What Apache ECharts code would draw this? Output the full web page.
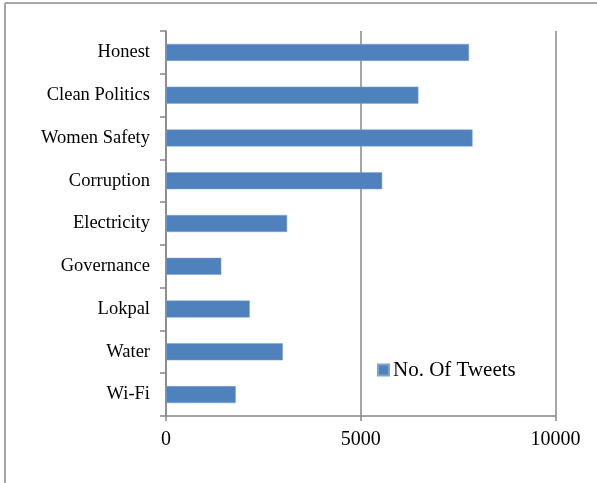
<!DOCTYPE html>
<html>
<head>
<meta charset="utf-8">
<script src="https://cdn.jsdelivr.net/npm/echarts@6/dist/echarts.min.js"></script>
<style>
html,body{margin:0;padding:0;background:#fff;}
#chart{width:597px;height:483px;}
</style>
</head>
<body>
<div id="chart"></div>
<script>
const categories = ["Honest", "Clean Politics", "Women Safety", "Corruption", "Electricity", "Governance", "Lokpal", "Water", "Wi-Fi"];
const tweets = [7780, 6480, 7870, 5550, 3110, 1420, 2150, 3000, 1790];
const seriesName = "No. Of Tweets";
const xTicks = [0, 5000, 10000];

const chart = echarts.init(document.getElementById('chart'), null, {renderer: 'canvas'});
const font = '"Liberation Serif", "Times New Roman", serif';
const gray = '#878787';
chart.setOption({
  animation: false,
  backgroundColor: '#ffffff',
  textStyle: {fontFamily: font},
  grid: {left: 166, top: 31, right: 41.5, bottom: 67, containLabel: false},
  legend: {
    show: true,
    left: 377, top: 359, padding: 0,
    icon: 'rect', itemWidth: 11, itemHeight: 11,
    textStyle: {fontFamily: font, fontSize: 21, color: '#000', lineHeight: 22, padding: [0, 0, 0, -1]},
    data: [seriesName]
  },
  xAxis: {
    type: 'value',
    min: xTicks[0], max: xTicks[xTicks.length - 1], interval: 5000,
    axisLine: {show: true, lineStyle: {color: gray, width: 1.5}},
    axisTick: {show: true, length: 5, lineStyle: {color: gray, width: 1.5}},
    axisLabel: {fontFamily: font, fontSize: 20, color: '#000', margin: 14, formatter: v => String(v)},
    splitLine: {show: true, lineStyle: {color: gray, width: 1.5}}
  },
  yAxis: {
    type: 'category',
    inverse: true,
    data: categories,
    axisLine: {show: true, lineStyle: {color: gray, width: 1.5}},
    axisTick: {show: true, length: 6, lineStyle: {color: gray, width: 1.5}},
    axisLabel: {fontFamily: font, fontSize: 18.5, color: '#000', margin: 16}
  },
  graphic: [
    {type: 'line', shape: {x1: 5, y1: 3, x2: 597, y2: 3}, style: {stroke: '#8a8a8a', lineWidth: 1.5}},
    {type: 'line', shape: {x1: 5, y1: 3, x2: 5, y2: 483}, style: {stroke: '#8a8a8a', lineWidth: 1.5}}
  ],
  series: [{
    name: seriesName,
    type: 'bar',
    data: tweets,
    barWidth: 17,
    itemStyle: {color: '#4F81BD', borderColor: '#7FA3D3', borderWidth: 0.5}
  }]
});
</script>
</body>
</html>
